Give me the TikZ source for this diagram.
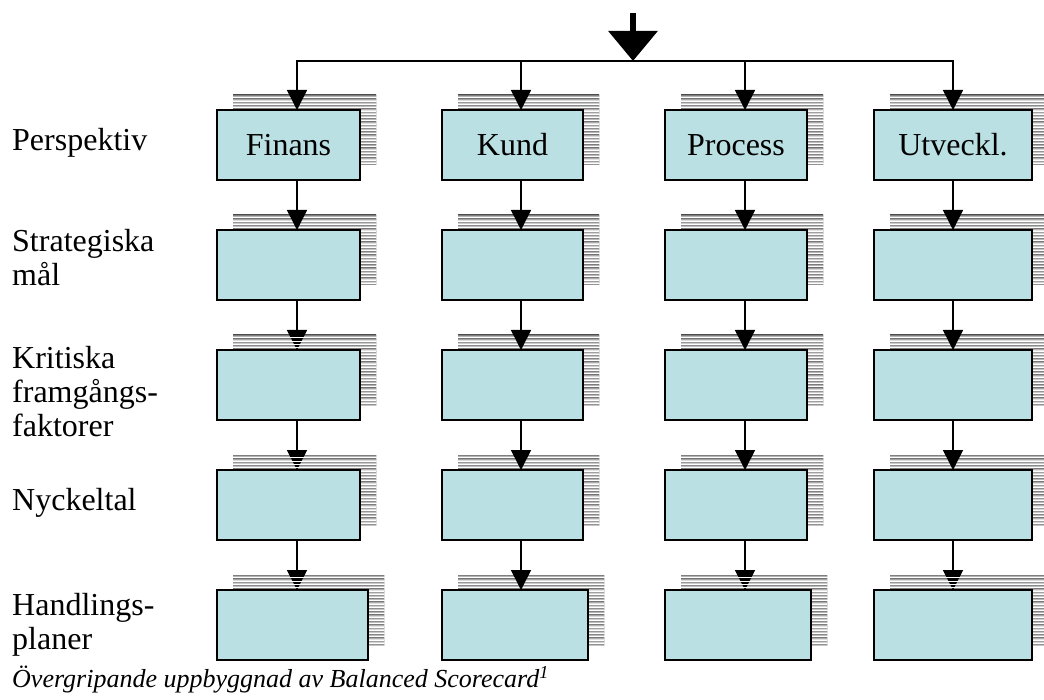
\documentclass[tikz,border=0pt]{standalone}
\usepackage{fontspec}
\setmainfont{Liberation Serif}
\usetikzlibrary{arrows.meta,calc}

\definecolor{boxfill}{RGB}{187,224,227}
\definecolor{shade}{RGB}{122,122,122}

% drawing order: shadow bars, hidden connectors, shadow gaps, everything else
\pgfdeclarelayer{bars}
\pgfdeclarelayer{under}
\pgfdeclarelayer{gaps}
\pgfsetlayers{bars,under,gaps,main}

\tikzset{
  card/.style={draw=black, line width=1.8pt, fill=boxfill, minimum height=70pt,
    inner sep=0pt, outer sep=0pt, font=\fontsize{32}{36}\selectfont},
  tip/.tip={Triangle[width=20pt,length=20pt]},
  conn/.style={line width=1.6pt, -tip},
  lbl/.style={anchor=west, align=left, inner sep=0pt, font=\fontsize{32}{34}\selectfont},
}

% striped drop shadow behind a card, shifted right and up
\newcommand{\shadowbars}[1]{%
  \begin{scope}
    \clip ($(#1.north west)+(16,-15)$) rectangle ($(#1.south east)+(16,-15)$);
    \foreach \k in {0,...,22}
      \fill[shade] ($(#1.north west)+(0,\k*3.27-15)$) rectangle ($(#1.north east)+(30,\k*3.27-12.55)$);
  \end{scope}}
\newcommand{\shadowgaps}[1]{%
  \begin{scope}
    \clip ($(#1.north west)+(16,-15)$) rectangle ($(#1.south east)+(16,-15)$);
    \foreach \k in {0,...,22}
      \fill[white] ($(#1.north west)+(0,\k*3.27-12.55)$) rectangle ($(#1.north east)+(30,\k*3.27-11.73)$);
  \end{scope}}

\begin{document}
\begin{tikzpicture}[x=1pt,y=-1pt]
\useasboundingbox (0,0) rectangle (1044,700);

% arrow columns on the distribution bus
\coordinate (t1) at (297,61);
\coordinate (t2) at (521,61);
\coordinate (t3) at (745,61);
\coordinate (t4) at (953,61);
\coordinate (src) at (633,13);
\coordinate (hub) at (633,61);

% cards
\node[card, minimum width=143pt] (b11) at (288.5,145) {Finans};
\node[card, minimum width=141pt] (b12) at (512.5,145) {Kund};
\node[card, minimum width=142pt] (b13) at (736,145)   {Process};
\node[card, minimum width=158pt] (b14) at (953,145)   {Utveckl.};
\foreach \r/\y in {2/265,3/385,4/505}
  {\node[card, minimum width=143pt] (b\r1) at (288.5,\y) {};
   \node[card, minimum width=141pt] (b\r2) at (512.5,\y) {};
   \node[card, minimum width=142pt] (b\r3) at (736,\y)   {};
   \node[card, minimum width=158pt] (b\r4) at (953,\y)   {};}
\node[card, minimum width=151pt] (b51) at (292.5,625) {};
\node[card, minimum width=146pt] (b52) at (515,625)   {};
\node[card, minimum width=146pt] (b53) at (738,625)   {};
\node[card, minimum width=158pt] (b54) at (953,625)   {};

% shadows
\begin{pgfonlayer}{bars}
\foreach \r in {1,...,5}
  \foreach \c in {1,...,4}
    {\shadowbars{b\r\c}}
\end{pgfonlayer}
\begin{pgfonlayer}{gaps}
\foreach \r in {1,...,5}
  \foreach \c in {1,...,4}
    {\shadowgaps{b\r\c}}
\end{pgfonlayer}

% connectors that pass beneath the shadows
\begin{pgfonlayer}{under}
\draw[conn] (t1 |- b21.south) -- (t1 |- b31.north);
\draw[conn] (t1 |- b31.south) -- (t1 |- b41.north);
\draw[conn] (t1 |- b41.south) -- (t1 |- b51.north);
\draw[conn] (t3 |- b43.south) -- (t3 |- b53.north);
\draw[conn] (t4 |- b44.south) -- (t4 |- b54.north);
\end{pgfonlayer}

% incoming arrow and distribution bus
\draw[line width=6.7pt, -{Triangle[width=48pt,length=30pt]}] (src) -- (hub);
\draw[line width=1.6pt, tip-tip] (t1 |- b11.north) -- (t1) -- (t4) -- (t4 |- b14.north);
\draw[conn] (t2) -- (t2 |- b12.north);
\draw[conn] (t3) -- (t3 |- b13.north);

% connectors drawn over the shadows
\draw[conn] (t1 |- b11.south) -- (t1 |- b21.north);
\foreach \c in {2,3,4}
  {\draw[conn] (t\c |- b1\c.south) -- (t\c |- b2\c.north);
   \draw[conn] (t\c |- b2\c.south) -- (t\c |- b3\c.north);
   \draw[conn] (t\c |- b3\c.south) -- (t\c |- b4\c.north);}
\draw[conn] (t2 |- b42.south) -- (t2 |- b52.north);

% row labels
\node[lbl] (l1) at (12,143) {Perspektiv};
\node[lbl] (l2) at (12,258) {Strategiska\\mål};
\node[lbl] (l3) at (12,392) {Kritiska\\framgångs-\\faktorer};
\node[lbl] (l4) at (12,503) {Nyckeltal};
\node[lbl] (l5) at (12,625) {Handlings-\\planer};

% caption
\node[anchor=west, inner sep=0pt, font=\fontsize{26}{30}\selectfont\itshape] (cap) at (12,680)
  {Övergripande uppbyggnad av Balanced Scorecard\textsuperscript{1}};
\end{tikzpicture}
\end{document}
